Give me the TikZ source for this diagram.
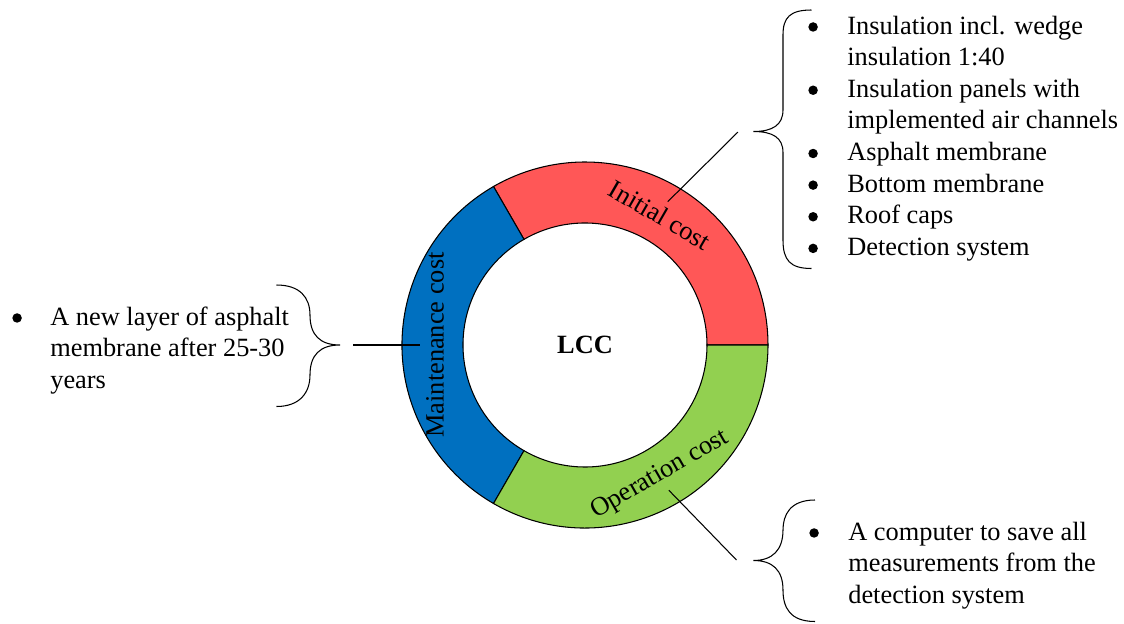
\documentclass[tikz,border=0pt]{standalone}
\usepackage{fontspec}
\setmainfont{Liberation Serif}
\usepackage{array}

\definecolor{costred}{HTML}{FF5757}
\definecolor{costblue}{HTML}{0070C0}
\definecolor{costgreen}{HTML}{92D050}

% round list bullet
\newcommand{\listdot}{\tikz[baseline=-4pt]\fill (0,0) circle (2.7pt);}

\tikzset{
	ringpart/.style={draw, line width=0.6pt},
	costlabel/.style={font=\fontsize{15}{18}\selectfont},
	listtext/.style={anchor=base west, inner sep=0pt, font=\fontsize{15}{18}\selectfont},
	bracket/.style={line width=0.6pt},
	link/.style={line width=0.6pt}
}

\begin{document}
\begin{tikzpicture}
	\useasboundingbox (-11.7,-5.56) rectangle (10.78,6.9);

	% the three parts of the ring
	\draw[ringpart, fill=costred] (0:3.66) arc[start angle=0, end angle=120, radius=3.66]
		-- (120:2.44) arc[start angle=120, end angle=0, radius=2.44] -- cycle;
	\draw[ringpart, fill=costblue] (120:3.66) arc[start angle=120, end angle=240, radius=3.66]
		-- (240:2.44) arc[start angle=240, end angle=120, radius=2.44] -- cycle;
	\draw[ringpart, fill=costgreen] (240:3.66) arc[start angle=240, end angle=360, radius=3.66]
		-- (0:2.44) arc[start angle=360, end angle=240, radius=2.44] -- cycle;

	\node[costlabel, font=\fontsize{15}{18}\selectfont\bfseries] (lcc) at (0,0) {LCC};
	\node[costlabel, rotate=-30] (initial) at (60:3.0) {Initial cost};
	\node[costlabel, rotate=90] (maintenance) at (180:3.0) {Maintenance cost};
	\node[costlabel, rotate=30] (operation) at (300:3.0) {Operation cost};

	% brace tips and line ends
	\coordinate (initialend) at (3.06,4.26);
	\coordinate (maintenanceend) at (-4.64,0);
	\coordinate (operationend) at (3.03,-4.3);

	\draw[link] (initial.north) -- (initialend);
	\draw[link] (maintenance.north) -- (maintenanceend);
	\draw[link] (operation.south) -- (operationend);

	% braces
	\draw[bracket] (4.53,6.7) .. controls (4.1,6.7) and (3.96,6.55) .. (3.96,6.2)
		-- (3.96,4.7) .. controls (3.96,4.4) and (3.75,4.27) .. (3.37,4.27)
		.. controls (3.75,4.27) and (3.96,4.15) .. (3.96,3.85)
		-- (3.96,2.1) .. controls (3.96,1.7) and (4.1,1.53) .. (4.53,1.53);
	\draw[bracket] (-6.17,1.2) .. controls (-5.7,1.2) and (-5.5,0.95) .. (-5.5,0.6)
		.. controls (-5.5,0.2) and (-5.3,0) .. (-4.9,0)
		.. controls (-5.3,0) and (-5.5,-0.2) .. (-5.5,-0.6)
		.. controls (-5.5,-0.95) and (-5.7,-1.23) .. (-6.17,-1.23);
	\draw[bracket] (4.6,-3.1) .. controls (4.1,-3.1) and (3.96,-3.4) .. (3.96,-3.7)
		.. controls (3.96,-4.1) and (3.75,-4.31) .. (3.37,-4.31)
		.. controls (3.75,-4.31) and (3.96,-4.5) .. (3.96,-4.9)
		.. controls (3.96,-5.25) and (4.1,-5.53) .. (4.6,-5.53);

	% item lists
	\node[listtext] (initiallist) at (4.46,6.22) {%
		\begin{tabular}[t]{@{}p{0.78cm}@{}l@{}}
			\listdot & Insulation incl. wedge\\
			 & insulation 1:40\\
			\listdot & Insulation panels with\\
			 & implemented air channels\\
			\listdot & Asphalt membrane\\
			\listdot & Bottom membrane\\
			\listdot & Roof caps\\
			\listdot & Detection system
		\end{tabular}};
	\node[listtext] (maintenancelist) at (-11.46,0.4) {%
		\begin{tabular}[t]{@{}p{0.76cm}@{}l@{}}
			\listdot & A new layer of asphalt\\
			 & membrane after 25-30\\
			 & years
		\end{tabular}};
	\node[listtext] (operationlist) at (4.48,-3.9) {%
		\begin{tabular}[t]{@{}p{0.78cm}@{}l@{}}
			\listdot & A computer to save all\\
			 & measurements from the\\
			 & detection system
		\end{tabular}};

\end{tikzpicture}
\end{document}
